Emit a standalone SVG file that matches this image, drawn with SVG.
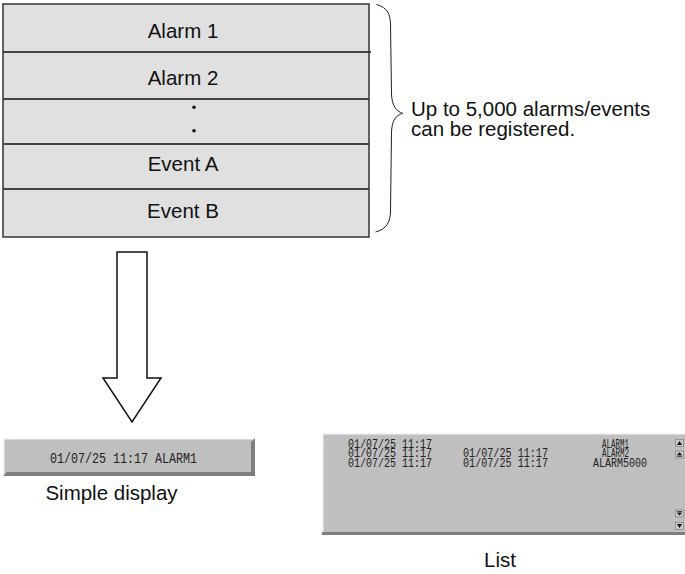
<svg xmlns="http://www.w3.org/2000/svg" width="685" height="574" viewBox="0 0 685 574">
  <style>
    .lbl { font-family: "Liberation Sans", Arial, sans-serif; font-size: 20.5px; fill: #111; }
    .row { fill: #e0e0e0; stroke: none; }
    .div { stroke: #111; stroke-width: 1.5; }
    .lcd { font-family: "Liberation Mono", "DejaVu Sans Mono", monospace; font-size: 14px; fill: #222; }
    .lcds { font-family: "Liberation Mono", "DejaVu Sans Mono", monospace; font-size: 12.5px; fill: #222; }
    .panel { fill: #bfbfbf; }
    .hl { fill: #fbf2fb; }
    .sh { fill: #7f7f7f; }
    .btn { fill: #c8c8c8; stroke: #777; stroke-width: 0.6; }
    .btnmark { fill: #111; }
  </style>
  <rect width="685" height="574" fill="#ffffff"/>

  <g id="register-table">
    <rect class="row" x="3" y="4" width="366" height="233"/>
    <g id="alarm-1"><text class="lbl" x="183" y="38" text-anchor="middle">Alarm 1</text></g>
    <g id="alarm-2"><text class="lbl" x="183" y="85" text-anchor="middle">Alarm 2</text></g>
    <g id="ellipsis">
      <circle cx="194" cy="107.3" r="1.8" fill="#111"/>
      <circle cx="194" cy="130.7" r="1.8" fill="#111"/>
    </g>
    <g id="event-a"><text class="lbl" x="183" y="171" text-anchor="middle">Event A</text></g>
    <g id="event-b"><text class="lbl" x="183" y="218" text-anchor="middle">Event B</text></g>
    <line class="div" x1="3" y1="52" x2="371" y2="52"/>
    <line class="div" x1="3" y1="99" x2="369" y2="99"/>
    <line class="div" x1="3" y1="144" x2="369" y2="144"/>
    <line class="div" x1="3" y1="189" x2="369" y2="189"/>
    <rect x="3" y="4" width="366" height="233" fill="none" stroke="#333" stroke-width="1.5"/>
  </g>

  <g id="annotation">
    <text class="lbl" x="411" y="116">Up to 5,000 alarms/events</text>
    <text class="lbl" x="411" y="136">can be registered.</text>
  </g>

  <g id="connectors">
    <path id="brace" d="M376.5,4.5 C388,8 390,14 390.5,24 L391.5,94 C392,106 396,111 402.7,113.3 C396,115.5 392,120 391.5,132 L390.5,212 C390,222 387,229 375.5,232" fill="none" stroke="#222" stroke-width="1"/>
    <polygon id="down-arrow" points="117,252 147,252 147,378 161,378 132,422 103,378 117,378" fill="#ffffff" stroke="#111" stroke-width="1.5" stroke-linejoin="miter"/>
  </g>

  <g id="simple-display">
    <rect class="panel" x="3" y="438" width="252" height="38"/>
    <rect class="hl" x="3" y="438" width="252" height="1.5"/>
    <rect class="hl" x="3" y="438" width="1.5" height="38"/>
    <polygon class="sh" points="3,476 255,476 255,438 251,442 251,472 7,472"/>
    <text class="lcd" x="50" y="462.5" textLength="147" lengthAdjust="spacingAndGlyphs">01/07/25 11:17 ALARM1</text>
    <text class="lbl" x="111.5" y="500" text-anchor="middle">Simple display</text>
  </g>

  <g id="list-display">
    <rect class="panel" x="322" y="433" width="363" height="102"/>
    <rect class="hl" x="322" y="433" width="363" height="1.5"/>
    <rect class="hl" x="322" y="433" width="1.5" height="102"/>
    <rect class="sh" x="322" y="532" width="363" height="3"/>
    <text class="lcds" x="348" y="447.5" textLength="84" lengthAdjust="spacingAndGlyphs">01/07/25 11:17</text>
    <text class="lcds" x="348" y="457" textLength="84" lengthAdjust="spacingAndGlyphs">01/07/25 11:17</text>
    <text class="lcds" x="348" y="466.5" textLength="84" lengthAdjust="spacingAndGlyphs">01/07/25 11:17</text>
    <text class="lcds" x="463" y="457" textLength="85" lengthAdjust="spacingAndGlyphs">01/07/25 11:17</text>
    <text class="lcds" x="463" y="466.5" textLength="85" lengthAdjust="spacingAndGlyphs">01/07/25 11:17</text>
    <text class="lcds" x="602" y="447.5" textLength="27" lengthAdjust="spacingAndGlyphs">ALARM1</text>
    <text class="lcds" x="602" y="457" textLength="27" lengthAdjust="spacingAndGlyphs">ALARM2</text>
    <text class="lcds" x="593" y="466.5" textLength="54" lengthAdjust="spacingAndGlyphs">ALARM5000</text>
    <g id="scroll-buttons">
      <rect class="btn" x="675.5" y="439.5" width="8" height="7"/>
      <polygon class="btnmark" points="679.5,441 682,445 677,445"/>
      <rect class="btn" x="675.5" y="451" width="8" height="7"/>
      <polygon class="btnmark" points="679.5,452.3 682,455 677,455"/>
      <rect class="btnmark" x="677" y="455.6" width="5" height="1"/>
      <rect class="btn" x="675.5" y="510" width="8" height="7"/>
      <rect class="btnmark" x="677" y="511.3" width="5" height="1"/>
      <polygon class="btnmark" points="677,512.8 682,512.8 679.5,515.6"/>
      <rect class="btn" x="675.5" y="522.5" width="8" height="7"/>
      <polygon class="btnmark" points="677,524 682,524 679.5,528"/>
    </g>
    <text class="lbl" x="500" y="567" text-anchor="middle">List</text>
  </g>
</svg>
